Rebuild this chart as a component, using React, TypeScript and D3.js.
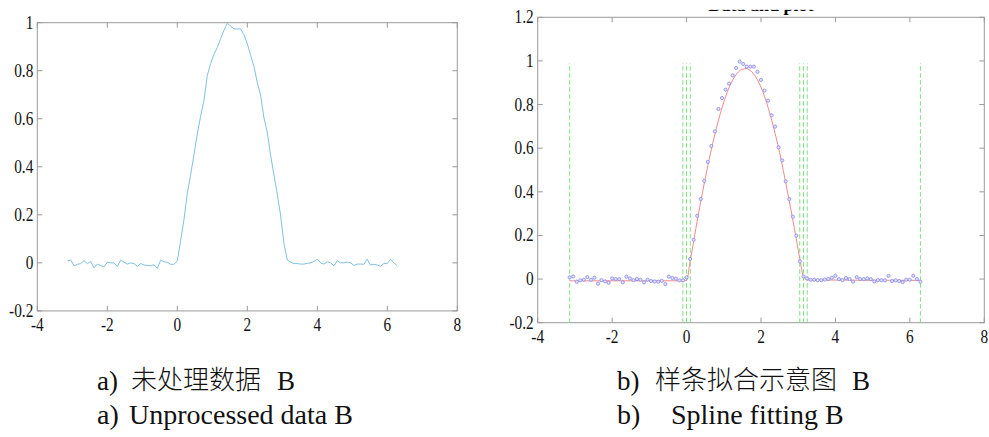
import React from "react";
import * as d3 from "d3";

// ---- data ----
const X_VALUES = [
  -3.142, -3.046, -2.951, -2.856, -2.761, -2.666, -2.570, -2.475, -2.380, -2.285,
  -2.190, -2.094, -1.999, -1.904, -1.809, -1.714, -1.618, -1.523, -1.428, -1.333,
  -1.238, -1.142, -1.047, -0.952, -0.857, -0.762, -0.666, -0.571, -0.476, -0.381,
  -0.286, -0.190, -0.095, 0.000, 0.095, 0.190, 0.286, 0.381, 0.476, 0.571,
  0.666, 0.762, 0.857, 0.952, 1.047, 1.142, 1.238, 1.333, 1.428, 1.523,
  1.618, 1.714, 1.809, 1.904, 1.999, 2.094, 2.190, 2.285, 2.380, 2.475,
  2.570, 2.666, 2.761, 2.856, 2.951, 3.046, 3.142, 3.237, 3.332, 3.427,
  3.522, 3.618, 3.713, 3.808, 3.903, 3.998, 4.094, 4.189, 4.284, 4.379,
  4.474, 4.570, 4.665, 4.760, 4.855, 4.951, 5.046, 5.141, 5.236, 5.331,
  5.426, 5.522, 5.617, 5.712, 5.807, 5.902, 5.998, 6.093, 6.188, 6.283,
];
const Y_VALUES = [
  0.008, 0.012, -0.012, -0.006, -0.003, 0.009, -0.003, 0.006, -0.021, -0.005,
  -0.011, -0.017, 0.003, 0.0, 0.0, -0.015, 0.011, 0.003, -0.005, 0.0,
  -0.003, -0.015, -0.003, -0.009, -0.011, -0.012, -0.008, -0.023, 0.011, 0.005,
  0.002, -0.006, -0.006, 0.008, 0.092, 0.18, 0.29, 0.367, 0.45, 0.537,
  0.61, 0.677, 0.78, 0.83, 0.868, 0.896, 0.934, 0.968, 0.997, 0.986,
  0.974, 0.974, 0.974, 0.95, 0.913, 0.864, 0.818, 0.751, 0.699, 0.604,
  0.544, 0.448, 0.367, 0.286, 0.199, 0.081, 0.012, 0.003, -0.003, -0.003,
  -0.005, -0.005, -0.002, 0.0, 0.006, 0.015, 0.0, -0.005, 0.005, 0.0,
  -0.012, 0.009, 0.0, 0.0, 0.003, 0.0, -0.011, -0.005, -0.005, -0.006,
  0.015, -0.009, -0.006, -0.009, -0.014, -0.003, -0.003, 0.015, 0.0, -0.012,
];
const FIT_X = [-3.1416, -1.5, -0.1, 0, 0.1, 0.3, 0.5, 0.7, 0.9, 1.1, 1.3, 1.5, 1.6, 1.7, 1.9, 2.1, 2.3, 2.5, 2.7, 2.9, 3.0416, 3.1416, 3.2416, 4.5, 6.2832];
const FIT_Y = [-0.008, -0.008, -0.008, -0.006, 0.085, 0.28, 0.46, 0.62, 0.755, 0.86, 0.93, 0.962, 0.965, 0.958, 0.915, 0.835, 0.72, 0.58, 0.41, 0.23, 0.095, 0.01, -0.004, -0.005, -0.006];
const KNOTS = [-3.1416, -0.1, 0, 0.1, 3.0416, 3.1416, 3.2416, 6.2832];
const KNOT_RANGE = [-0.2, 0.99];

const X_DOMAIN = [-4, 8];
const LEFT_Y_DOMAIN = [-0.2, 1];
const RIGHT_Y_DOMAIN = [-0.2, 1.2];
const RIGHT_TITLE = "Data and plot";

const CAPTION_A_CN = ["a)", "未处理数据", "B"];
const CAPTION_A_EN = ["a)", "Unprocessed data B"];
const CAPTION_B_CN = ["b)", "样条拟合示意图", "B"];
const CAPTION_B_EN = ["b)", "Spline fitting B"];

const AXIS_COLOR = "#9a9a9a";
const SERIF = "'Liberation Serif', 'Times New Roman', serif";
const CJK = "'Noto Sans CJK SC', sans-serif";

const fmt = (t: number) => String(+t.toFixed(1));

function Frame({ x, y, xTicks, yTicks, labelGap }: any) {
  const [x0, x1] = x.range();
  const [y0, y1] = y.range();
  const tl = 5;
  return (
    <g>
      <rect x={x0} y={y1} width={x1 - x0} height={y0 - y1} fill="none" stroke={AXIS_COLOR} strokeWidth={1} />
      {xTicks.map((t: number) => (
        <g key={"x" + t}>
          <line x1={x(t)} x2={x(t)} y1={y0} y2={y0 - tl} stroke={AXIS_COLOR} />
          <line x1={x(t)} x2={x(t)} y1={y1} y2={y1 + tl} stroke={AXIS_COLOR} />
          <text
            transform={`translate(${x(t)},${y0 + labelGap}) scale(0.85,1)`}
            textAnchor="middle"
            fontFamily={SERIF}
            fontSize={18}
            fill="#111"
          >
            {fmt(t)}
          </text>
        </g>
      ))}
      {yTicks.map((t: number) => (
        <g key={"y" + t}>
          <line x1={x0} x2={x0 + tl} y1={y(t)} y2={y(t)} stroke={AXIS_COLOR} />
          <line x1={x1} x2={x1 - tl} y1={y(t)} y2={y(t)} stroke={AXIS_COLOR} />
          <text
            transform={`translate(${x0 - 4},${y(t) + 6}) scale(0.85,1)`}
            textAnchor="end"
            fontFamily={SERIF}
            fontSize={18}
            fill="#111"
          >
            {fmt(t)}
          </text>
        </g>
      ))}
    </g>
  );
}

export default function App() {
  const data = X_VALUES.map((v, i) => [v, Y_VALUES[i]] as [number, number]);
  const fit = FIT_X.map((v, i) => [v, FIT_Y[i]] as [number, number]);

  const xL = d3.scaleLinear().domain(X_DOMAIN).range([37.3, 457.3]);
  const yL = d3.scaleLinear().domain(LEFT_Y_DOMAIN).range([310.9, 22.7]);
  const xR = d3.scaleLinear().domain(X_DOMAIN).range([537.7, 984.3]);
  const yR = d3.scaleLinear().domain(RIGHT_Y_DOMAIN).range([322.7, 17.3]);

  const lineL = d3.line<[number, number]>().x((d) => xL(d[0])).y((d) => yL(d[1]));
  const lineFit = d3
    .line<[number, number]>()
    .x((d) => xR(d[0]))
    .y((d) => yR(d[1]))
    .curve(d3.curveMonotoneX);

  const titleX = (xR.range()[0] + xR.range()[1]) / 2;

  return (
    <div style={{ position: "absolute", left: 0, top: 0 }}>
      <svg width={989} height={437} style={{ display: "block", background: "#fff" }}>
        <rect x={0} y={0} width={989} height={437} fill="#fff" />

        {/* Left panel */}
        <Frame x={xL} y={yL} xTicks={xL.ticks(6)} yTicks={yL.ticks(6)} labelGap={20} />
        <path d={lineL(data) || ""} fill="none" stroke="#7fc2e2" strokeWidth={1} />

        {/* Right panel */}
        <Frame x={xR} y={yR} xTicks={xR.ticks(6)} yTicks={yR.ticks(7)} labelGap={20} />
        {KNOTS.map((k) => (
          <line
            key={"k" + k}
            x1={xR(k)}
            x2={xR(k)}
            y1={yR(KNOT_RANGE[0])}
            y2={yR(KNOT_RANGE[1])}
            stroke="#7fe07f"
            strokeWidth={1}
            strokeDasharray="4.5,2.5"
          />
        ))}
        <path d={lineFit(fit) || ""} fill="none" stroke="#f08a8a" strokeWidth={1} />
        {data.map((d, i) => (
          <circle key={"p" + i} cx={xR(d[0])} cy={yR(d[1])} r={1.6} fill="#e0e0ff" stroke="#7c7ce8" strokeWidth={0.7} />
        ))}
        {/* title: only its lowest row shows in the cropped reference */}
        <text x={titleX} y={10.8} textAnchor="middle" fontFamily={SERIF} fontWeight="bold" fontSize={18} fill="#000">
          {RIGHT_TITLE}
        </text>
        <rect x={640} y={0} width={250} height={9.8} fill="#fff" />

        {/* Captions */}
        <g fill="#111">
          <text x={97} y={390} fontFamily={SERIF} fontSize={27}>{CAPTION_A_CN[0]}</text>
          <text x={131} y={389} fontFamily={CJK} fontSize={26} fontWeight={300}>{CAPTION_A_CN[1]}</text>
          <text x={277} y={390} fontFamily={SERIF} fontSize={27}>{CAPTION_A_CN[2]}</text>
          <text x={97} y={424} fontFamily={SERIF} fontSize={28}>{CAPTION_A_EN[0]}</text>
          <text x={129} y={424} fontFamily={SERIF} fontSize={28}>{CAPTION_A_EN[1]}</text>

          <text x={617} y={390} fontFamily={SERIF} fontSize={27}>{CAPTION_B_CN[0]}</text>
          <text x={655} y={389} fontFamily={CJK} fontSize={26} fontWeight={300}>{CAPTION_B_CN[1]}</text>
          <text x={852} y={390} fontFamily={SERIF} fontSize={27}>{CAPTION_B_CN[2]}</text>
          <text x={617} y={424} fontFamily={SERIF} fontSize={28}>{CAPTION_B_EN[0]}</text>
          <text x={671} y={424} fontFamily={SERIF} fontSize={28}>{CAPTION_B_EN[1]}</text>
        </g>
      </svg>
    </div>
  );
}
